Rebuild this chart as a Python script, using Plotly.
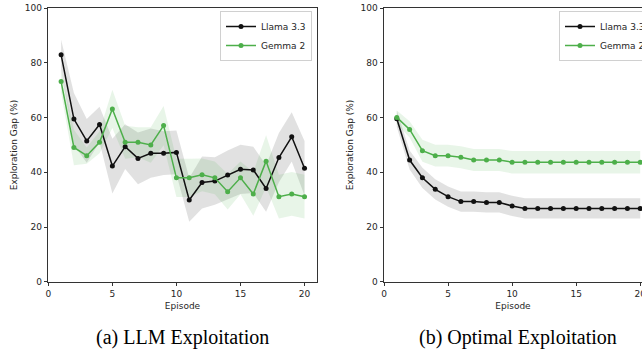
import plotly.graph_objects as go

episodes = list(range(1, 21))

# (a) LLM Exploitation
llm_llama_mean = [83, 59.5, 51.5, 57.5, 42.3, 49.4, 45.1, 47, 47, 47.3,
                  29.9, 36.3, 36.8, 39, 41.1, 40.9, 34.1, 45.4, 53, 41.5]
llm_llama_std = [5.5, 9.5, 8, 6.5, 10, 8.2, 9.5, 9, 8, 8,
                 8, 9.5, 8.7, 9, 9, 8.5, 8.5, 9, 9, 10]
llm_gemma_mean = [73.2, 49.1, 46.1, 51, 63.2, 51, 51, 50, 57.1, 38,
                  38, 39.1, 38, 32.9, 38, 32.1, 44.1, 31.1, 32.1, 31.1]
llm_gemma_std = [4, 6.5, 3, 4, 7, 6, 5.5, 6.5, 7.2, 7,
                 7, 6, 6, 6.5, 6, 8, 9.5, 8, 8, 8]

# (b) Optimal Exploitation
opt_llama_mean = [59.6, 44.5, 38, 33.8, 31.1, 29.3, 29.3, 29, 29, 27.7,
                  26.8, 26.8, 26.8, 26.8, 26.8, 26.8, 26.8, 26.8, 26.8, 26.8]
opt_llama_std = [3, 3.5, 3.7, 3.7, 3.7, 3.7, 3.7, 3.7, 3.7, 3.7,
                 3.7, 3.7, 3.7, 3.7, 3.7, 3.7, 3.7, 3.7, 3.7, 3.7]
opt_gemma_mean = [60.1, 55.7, 47.9, 46.1, 46.1, 45.5, 44.5, 44.5, 44.5, 43.7,
                  43.7, 43.7, 43.7, 43.7, 43.7, 43.7, 43.7, 43.7, 43.7, 43.7]
opt_gemma_std = [2.5, 3, 4, 4, 4, 4, 4, 4, 4, 4.1,
                 4.1, 4.1, 4.1, 4.1, 4.1, 4.1, 4.1, 4.1, 4.1, 4.1]

series_names = ["Llama 3.3", "Gemma 2"]
captions = ["(a) LLM Exploitation", "(b) Optimal Exploitation"]
y_ticks = [0, 20, 40, 60, 80, 100]
x_ticks = [0, 5, 10, 15, 20]

LINE_COLORS = ["#111111", "#4daf4a"]
BAND_COLORS = ["rgba(120,120,120,0.22)", "rgba(77,175,74,0.13)"]
TXT = "#262626"

W, H = 642, 352


def fx(px):
    return px / W


def fy(py):
    return 1 - py / H


fig = go.Figure()

panels = [
    (("x", "y"), [(llm_llama_mean, llm_llama_std), (llm_gemma_mean, llm_gemma_std)], "legend"),
    (("x2", "y2"), [(opt_llama_mean, opt_llama_std), (opt_gemma_mean, opt_gemma_std)], "legend2"),
]

for (xa, ya), series, leg in panels:
    for i, (m, s) in enumerate(series):
        upper = [a + b for a, b in zip(m, s)]
        lower = [a - b for a, b in zip(m, s)]
        fig.add_trace(go.Scatter(x=episodes, y=upper, mode="lines", line=dict(width=0),
                                 hoverinfo="skip", showlegend=False, xaxis=xa, yaxis=ya))
        fig.add_trace(go.Scatter(x=episodes, y=lower, mode="lines", line=dict(width=0),
                                 fill="tonexty", fillcolor=BAND_COLORS[i],
                                 hoverinfo="skip", showlegend=False, xaxis=xa, yaxis=ya))
    for i, (m, s) in enumerate(series):
        fig.add_trace(go.Scatter(x=episodes, y=m, mode="lines+markers", name=series_names[i],
                                 line=dict(color=LINE_COLORS[i], width=1.5),
                                 marker=dict(color=LINE_COLORS[i], size=5),
                                 xaxis=xa, yaxis=ya, legend=leg))

px_per_unit = (316.7 - 48.3) / 20.95

axis_common = dict(showline=True, linecolor="#333", linewidth=1, ticks="outside",
                   ticklen=3.5, tickwidth=0.8, tickcolor="#333", showgrid=False,
                   zeroline=False, tickfont=dict(family="DejaVu Sans", size=9, color=TXT),
                   automargin=False, ticklabeloverflow="allow")
title_font = dict(family="DejaVu Sans", size=9, color=TXT)
legend_common = dict(yref="paper", xref="paper", y=fy(11), yanchor="top",
                     bgcolor="rgba(255,255,255,0.85)", bordercolor="#d0d0d0", borderwidth=1,
                     font=dict(family="DejaVu Sans", size=9, color=TXT), tracegroupgap=0,
                     itemwidth=30, traceorder="normal")

fig.update_layout(
    width=W, height=H,
    margin=dict(l=0, r=0, t=0, b=0, autoexpand=False),
    paper_bgcolor="white", plot_bgcolor="white",
    showlegend=True,
    xaxis=dict(domain=[fx(48.3), fx(316.7)], range=[0, 20.95], tickvals=x_ticks,
               mirror=True, anchor="y",
               title=dict(text="Episode", font=title_font, standoff=4), **axis_common),
    yaxis=dict(domain=[fy(281.7), fy(8.3)], range=[0, 100], tickvals=y_ticks,
               mirror=True, anchor="x",
               title=dict(text="Exploration Gap (%)", font=title_font, standoff=5), **axis_common),
    xaxis2=dict(domain=[fx(384), 1.0], range=[0, (W - 384) / px_per_unit], tickvals=x_ticks,
                mirror=True, anchor="y2",
                title=dict(text="Episode", font=title_font, standoff=4), **axis_common),
    yaxis2=dict(domain=[fy(281.7), fy(8.3)], range=[0, 100], tickvals=y_ticks,
                mirror=False, anchor="x2",
                title=dict(text="Exploration Gap (%)", font=title_font, standoff=5), **axis_common),
    legend=dict(x=fx(312), xanchor="right", **legend_common),
    legend2=dict(x=fx(559), xanchor="left", **legend_common),
)

for cx, text in zip([183, 518], captions):
    fig.add_annotation(x=fx(cx), y=fy(337), xref="paper", yref="paper", text=text,
                       showarrow=False, xanchor="center", yanchor="middle",
                       font=dict(family="Liberation Serif", size=20, color="black"))

# remove the browser's default 8px body margin so the figure fills the window exactly
fig.write_html("out.html",
               config={"displayModeBar": False},
               post_script="document.body.style.margin='0';document.body.style.overflow='hidden';")
